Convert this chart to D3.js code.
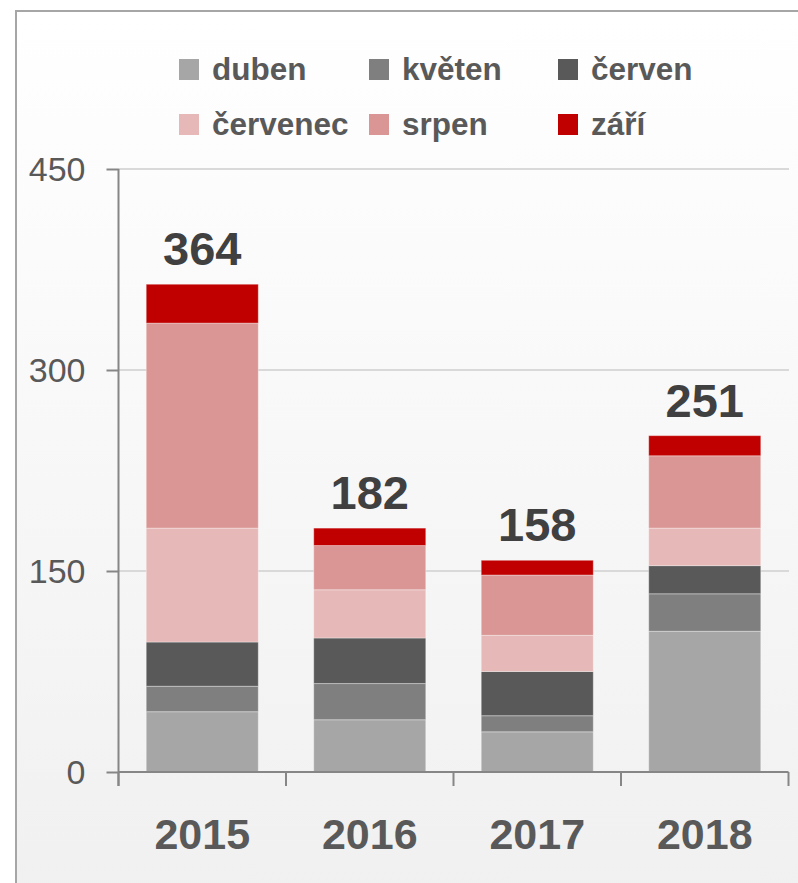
<!DOCTYPE html>
<html><head><meta charset="utf-8">
<script src="https://cdn.jsdelivr.net/npm/d3@7"></script>
<style>html,body{margin:0;padding:0;background:#fff;}svg{display:block;}</style>
</head><body>
<svg id="c" width="798" height="883"></svg>
<script>
const years = ["2015", "2016", "2017", "2018"];
const seriesNames = ["duben", "květen", "červen", "červenec", "srpen", "září"];
const duben    = [45, 39, 30, 105];
const kveten   = [19, 27, 12, 28];
const cerven   = [33, 34, 33, 21];
const cervenec = [85, 36, 27, 28];
const srpen    = [153, 33, 45, 54];
const zari     = [29, 13, 11, 15];
const totals   = [364, 182, 158, 251];
const yTicks   = [0, 150, 300, 450];
const colors   = ["#a6a6a6", "#7f7f7f", "#595959", "#e6b8b7", "#da9694", "#c00000"];

const seriesValues = [duben, kveten, cerven, cervenec, srpen, zari];
const rows = years.map((y, i) => {
  const r = {year: y};
  seriesNames.forEach((s, k) => r[s] = seriesValues[k][i]);
  return r;
});

const svg = d3.select("#c");
const defs = svg.append("defs");
const grad = defs.append("linearGradient").attr("id", "bg").attr("x1", 0).attr("y1", 0).attr("x2", 0).attr("y2", 1);
grad.append("stop").attr("offset", "0%").attr("stop-color", "#ffffff");
grad.append("stop").attr("offset", "100%").attr("stop-color", "#f0f0f0");

svg.append("rect").attr("x", 16).attr("y", 11).attr("width", 800).attr("height", 900)
  .attr("fill", "url(#bg)").attr("stroke", "#a6a6a6").attr("stroke-width", 2);

const x = d3.scaleBand().domain(years).range([118.5, 788.5]).paddingInner(0.331).paddingOuter(0.1655);
const y = d3.scaleLinear().domain([0, 450]).range([772, 169]);

svg.append("g").selectAll("line").data(yTicks.filter(t => t > 0)).join("line")
  .attr("x1", 118).attr("x2", 789).attr("y1", d => y(d)).attr("y2", d => y(d))
  .attr("stroke", "#d9d9d9").attr("stroke-width", 2);

const stack = d3.stack().keys(seriesNames)(rows);
const color = d3.scaleOrdinal().domain(seriesNames).range(colors);
svg.append("g").selectAll("g").data(stack).join("g")
  .attr("fill", d => color(d.key))
  .selectAll("rect").data(d => d).join("rect")
  .attr("x", d => x(d.data.year))
  .attr("width", x.bandwidth())
  .attr("y", d => y(d[1]))
  .attr("height", d => y(d[0]) - y(d[1]))
  .attr("stroke", "rgba(255,255,255,0.35)").attr("stroke-width", 1);

const yAxis = d3.axisLeft(y).tickValues(yTicks).tickSize(12).tickPadding(21).tickFormat(d3.format("d"));
const gy = svg.append("g").attr("transform", "translate(118.5,0)").call(yAxis);
gy.select(".domain").attr("stroke", "#868686").attr("stroke-width", 2).attr("d", "M0,169V786");
gy.selectAll(".tick line").attr("stroke", "#868686").attr("stroke-width", 2);
gy.selectAll(".tick text").attr("fill", "#595959")
  .style("font-family", "'Liberation Sans', Arial, sans-serif").style("font-size", "34px").attr("dy", "0.35em");

const xAxis = d3.axisBottom(x).tickSize(0).tickPadding(0);
const gx = svg.append("g").attr("transform", "translate(0,772)").call(xAxis);
gx.select(".domain").attr("stroke", "#868686").attr("stroke-width", 2).attr("d", "M118.5,0H788.5");
gx.selectAll(".tick text").attr("fill", "#595959").attr("y", 77).attr("dy", 0)
  .style("font-family", "'Liberation Sans', Arial, sans-serif").style("font-size", "43px").style("font-weight", "bold");
const bounds = years.map(d => x(d) - x.step() * x.paddingInner() / 2).concat([x(years[years.length - 1]) + x.bandwidth() + x.step() * x.paddingInner() / 2]);
gx.append("g").selectAll("line").data(bounds).join("line")
  .attr("x1", d => d).attr("x2", d => d).attr("y1", 0).attr("y2", 14)
  .attr("stroke", "#868686").attr("stroke-width", 2);

svg.append("g").selectAll("text").data(years).join("text")
  .attr("x", d => x(d) + x.bandwidth() / 2)
  .attr("y", (d, i) => y(totals[i]) - 19)
  .attr("text-anchor", "middle").attr("fill", "#404040")
  .style("font-family", "'Liberation Sans', Arial, sans-serif").style("font-size", "47px").style("font-weight", "bold")
  .text((d, i) => totals[i]);

const legX = [179, 369, 558];
const legY = [59, 114];
const lg = svg.append("g");
seriesNames.forEach((s, k) => {
  const cx = legX[k % 3], cy = legY[Math.floor(k / 3)];
  lg.append("rect").attr("x", cx).attr("y", cy).attr("width", 20).attr("height", 21).attr("fill", colors[k]);
  lg.append("text").attr("x", cx + 33).attr("y", cy + 21).attr("fill", "#595959")
    .style("font-family", "'Liberation Sans', Arial, sans-serif").style("font-size", "31.5px").style("font-weight", "bold")
    .text(s);
});
</script>
</body></html>
